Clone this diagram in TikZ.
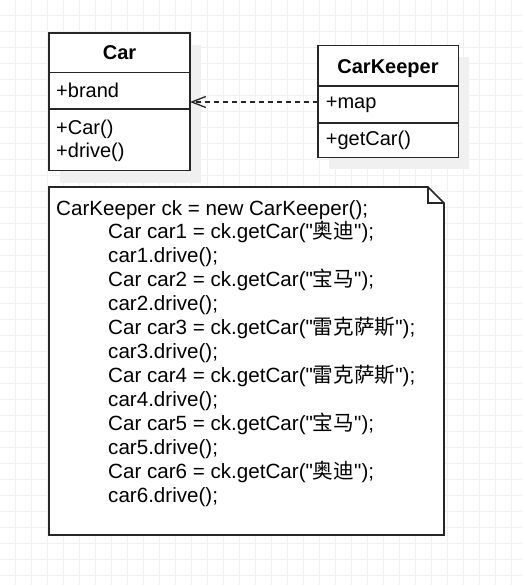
\documentclass[tikz,border=0pt]{standalone}
\usepackage{fontspec}
\setmainfont{Liberation Sans}[Ligatures=TeXOff]
\newfontfamily\cjk{Noto Sans CJK SC}
\usetikzlibrary{arrows.meta,calc}

\tikzset{
  gridline/.style={draw=black!6, line width=0.8pt},
  boxshadow/.style={fill=black!6, draw=none},
  umlbox/.style={draw=black!85, line width=1.6pt, fill=white, anchor=north west,
    inner sep=0pt, outer sep=0pt, minimum width=141pt},
  notebox/.style={anchor=north west, inner sep=0pt, outer sep=0pt,
    minimum width=395pt, minimum height=348pt},
  noteline/.style={draw=black!85, line width=1.6pt, line join=miter},
  classname/.style={anchor=base, inner sep=0pt, font=\fontsize{20}{24}\selectfont\bfseries},
  member/.style={anchor=base west, inner sep=0pt, font=\fontsize{20}{24}\selectfont},
  codeline/.style={anchor=base west, inner sep=0pt, font=\fontsize{20.6}{24}\selectfont},
  depends/.style={draw=black!85, line width=1.3pt, dash pattern=on 5pt off 4pt,
    -{Straight Barb[length=14pt,width=11pt,line width=1.3pt]}},
}

\begin{document}
\begin{tikzpicture}[x=1pt,y=1pt,yscale=-1]
  \useasboundingbox (0,0) rectangle (522,585);

  % background grid
  \foreach \g in {15,31,...,511} \draw[gridline] (\g,0) -- (\g,585);
  \foreach \g in {15,31,...,575} \draw[gridline] (0,\g) -- (522,\g);

  % shadows
  \fill[boxshadow] (60,45) rectangle (201,182.6);
  \fill[boxshadow] (328.7,56.7) rectangle (469.3,168.7);

  % class Car
  \node[umlbox, minimum height=39.7pt] (carhead) at (49,33) {};
  \node[umlbox, minimum height=36.3pt] (carattr) at (carhead.south west) {};
  \node[umlbox, minimum height=61.6pt] (carops) at (carattr.south west) {};

  % class CarKeeper
  \node[umlbox, minimum width=140.6pt, minimum height=40.3pt] (keeperhead) at (317.7,45.7) {};
  \node[umlbox, minimum width=140.6pt, minimum height=37.3pt] (keeperattr) at (keeperhead.south west) {};
  \node[umlbox, minimum width=140.6pt, minimum height=34.4pt] (keeperops) at (keeperattr.south west) {};

  % texts in the classes
  \node[classname] (carname) at (119.5,60) {Car};
  \node[member] (brand) at (56,97.3) {+brand};
  \node[member] (carctor) at (56,135) {+Car()};
  \node[member] (drive) at (56,157.3) {+drive()};
  \node[classname] (keepername) at (388,73.3) {CarKeeper};
  \node[member] (map) at (325.7,109) {+map};
  \node[member] (getcar) at (325.7,145.7) {+getCar()};

  % dependency
  \coordinate (dep) at (0,102);
  \draw[depends] (keeperattr.west |- dep) -- (carattr.east |- dep);

  % note
  \node[notebox] (note) at (49,187) {};
  \draw[noteline, fill=white] (note.north west) -- ($(note.north east)+(-16,0)$)
    -- ($(note.north east)+(0,16)$) -- (note.south east) -- (note.south west) -- cycle;
  \draw[noteline] ($(note.north east)+(-16,0)$) -- ($(note.north east)+(-16,16)$)
    -- ($(note.north east)+(0,16)$);

  \node[codeline] (ckline) at (56,215) {CarKeeper ck = new CarKeeper();};
  \foreach \code [count=\i] in {
    {Car car1 = ck.getCar("{\cjk 奥迪}");},
    {car1.drive();},
    {Car car2 = ck.getCar("{\cjk 宝马}");},
    {car2.drive();},
    {Car car3 = ck.getCar("{\cjk 雷克萨斯}");},
    {car3.drive();},
    {Car car4 = ck.getCar("{\cjk 雷克萨斯}");},
    {car4.drive();},
    {Car car5 = ck.getCar("{\cjk 宝马}");},
    {car5.drive();},
    {Car car6 = ck.getCar("{\cjk 奥迪}");},
    {car6.drive();}}
    \node[codeline] (code\i) at (108,{215+\i*23.94}) {\code};
\end{tikzpicture}
\end{document}
